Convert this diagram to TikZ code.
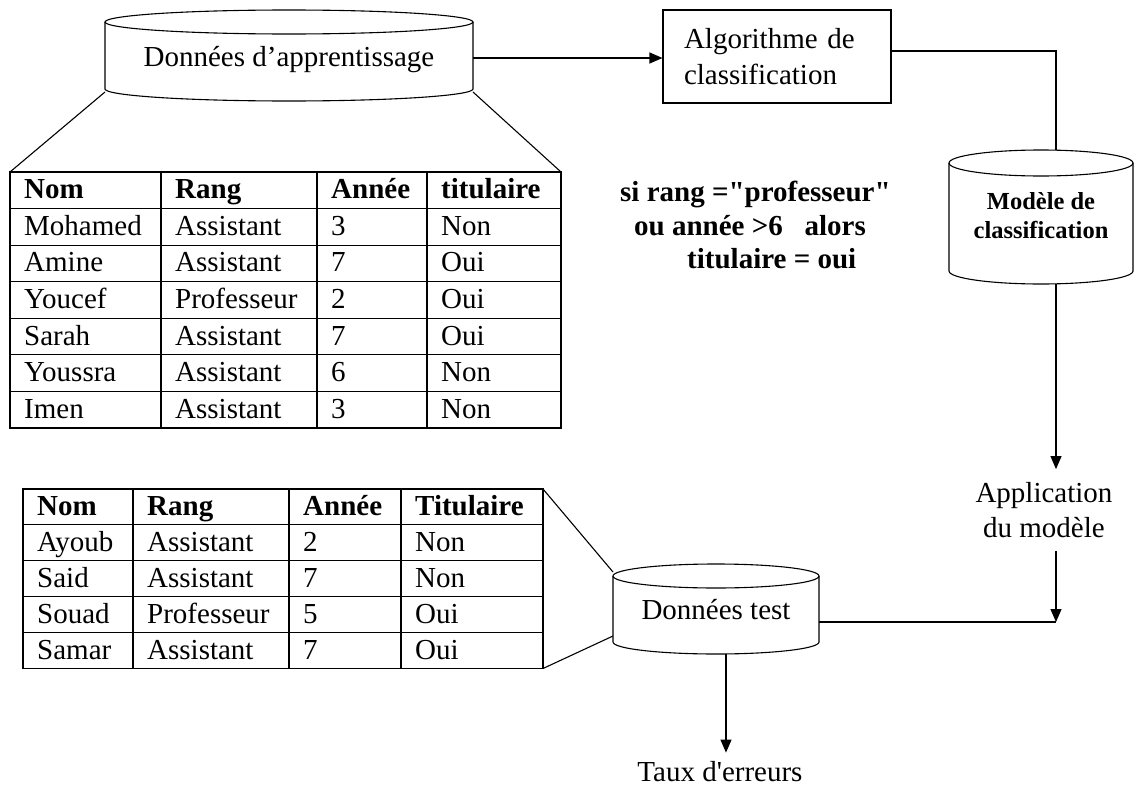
\documentclass[tikz,border=0pt]{standalone}
\usepackage{fontspec}
\setmainfont{Liberation Serif}
\usetikzlibrary{arrows.meta}

\tikzset{
  trait/.style={line width=1.1pt},
  fleche/.style={trait,-{Triangle[length=13pt,width=11pt]}},
  cellule/.style={anchor=base west,inner sep=0pt,font=\fontsize{29}{35}\selectfont},
  entete/.style={cellule,font=\fontsize{29}{35}\selectfont\bfseries},
  texte/.style={inner sep=0pt,align=center,font=\fontsize{29}{35}\selectfont}
}

\begin{document}
\begin{tikzpicture}[x=1pt,y=-1pt]
\useasboundingbox (0,0) rectangle (1136,787);

% Base d'apprentissage
\draw[trait] (289,22) ellipse [x radius=184pt,y radius=12pt];
\draw[trait] (105,22) -- (105,89) arc[start angle=180,end angle=360,x radius=184pt,y radius=12pt] -- (473,22);
\node[texte] (appr) at (289,60) {Données d’apprentissage};
\coordinate (appr-e) at (473,58);
\coordinate (appr-g) at (105,92);
\coordinate (appr-d) at (473,92);

% Algorithme
\node[draw,trait,text width=186pt,minimum width=228pt,minimum height=93pt,inner xsep=0pt,align=left,font=\fontsize{29}{36}\selectfont] (algo) at (777,56.5) {Algorithme de\\classification};
\draw[fleche] (appr-e) -- (algo.west |- appr-e);

% Modele
\draw[trait] (1041,163) ellipse [x radius=92pt,y radius=13pt];
\draw[trait] (949,163) -- (949,271) arc[start angle=180,end angle=360,x radius=92pt,y radius=13pt] -- (1133,163);
\node[texte,font=\fontsize{24.5}{29}\selectfont\bfseries] (modele) at (1041,216) {Modèle de\\classification};
\coordinate (mod-h) at (1056,150);
\coordinate (mod-b) at (1056,284);
\draw[trait] ([yshift=5.5pt]algo.east) -| (mod-h);

% regle
\node[anchor=north west,inner sep=0pt,align=left,font=\fontsize{29}{33.5}\selectfont\bfseries] (regle) at (620,181) {si rang =\textquotedbl professeur\textquotedbl\\\hspace*{14pt}ou année >6\ \ \ alors\\\hspace*{67pt}titulaire = oui};

% Application
\node[texte,inner ysep=13pt] (appli) at (1044,510) {Application\\du modèle};
\draw[fleche] (mod-b) -- (mod-b |- appli.north);
\coordinate (coin) at (1056,622);
\draw[fleche] (mod-b |- appli.south) -- (coin);

% Donnees test
\draw[trait] (716,576) ellipse [x radius=103pt,y radius=12pt];
\draw[trait] (613,576) -- (613,642) arc[start angle=180,end angle=360,x radius=103pt,y radius=12pt] -- (819,576);
\node[texte] (test) at (716,610) {Données test};
\coordinate (test-e) at (819,622);
\coordinate (test-b) at (726,654);
\coordinate (test-g) at (613,572);
\coordinate (test-gb) at (613,636);
\draw[trait] (test-e) -- (coin);
\node[texte,inner ysep=9pt] (taux) at (720,772) {Taux d\textquotesingle erreurs};
\draw[fleche] (test-b) -- (test-b |- taux.north);

% Table d'apprentissage
\coordinate (ta-no) at (10,172);
\coordinate (ta-ne) at (561,172);
\draw[trait] (ta-no) rectangle (561,428);
\foreach \x in {161,317,427}
  \draw[trait] (\x,172) -- (\x,428);
\foreach \k in {1,...,6}
  \draw[trait] (10,{172+36.57*\k}) -- (561,{172+36.57*\k});
\foreach \t/\x [count=\j] in {Nom/24,Rang/175,Année/331,titulaire/441}
  \node[entete] (ta-0-\j) at (\x,198.8) {\t};
\foreach \nom/\rang/\an/\tit [count=\i] in {Mohamed/Assistant/3/Non,Amine/Assistant/7/Oui,Youcef/Professeur/2/Oui,Sarah/Assistant/7/Oui,Youssra/Assistant/6/Non,Imen/Assistant/3/Non}
{
  \node[cellule] (ta-\i-1) at (24,{198.8+36.57*\i}) {\nom};
  \node[cellule] (ta-\i-2) at (175,{198.8+36.57*\i}) {\rang};
  \node[cellule] (ta-\i-3) at (331,{198.8+36.57*\i}) {\an};
  \node[cellule] (ta-\i-4) at (441,{198.8+36.57*\i}) {\tit};
}
\draw[trait] (appr-g) -- (ta-no);
\draw[trait] (appr-d) -- (ta-ne);

% Table de test
\coordinate (tt-ne) at (543,489);
\coordinate (tt-se) at (543,668.5);
\draw[trait] (23,489) rectangle (tt-se);
\foreach \x in {133,289,401}
  \draw[trait] (\x,489) -- (\x,668.5);
\foreach \k in {1,...,4}
  \draw[trait] (23,{489+35.9*\k}) -- (543,{489+35.9*\k});
\foreach \t/\x [count=\j] in {Nom/37,Rang/147,Année/303,Titulaire/415}
  \node[entete] (tt-0-\j) at (\x,515.5) {\t};
\foreach \nom/\rang/\an/\tit [count=\i] in {Ayoub/Assistant/2/Non,Said/Assistant/7/Non,Souad/Professeur/5/Oui,Samar/Assistant/7/Oui}
{
  \node[cellule] (tt-\i-1) at (37,{515.5+35.9*\i}) {\nom};
  \node[cellule] (tt-\i-2) at (147,{515.5+35.9*\i}) {\rang};
  \node[cellule] (tt-\i-3) at (303,{515.5+35.9*\i}) {\an};
  \node[cellule] (tt-\i-4) at (415,{515.5+35.9*\i}) {\tit};
}
\draw[trait] (tt-ne) -- (test-g);
\draw[trait] (tt-se) -- (test-gb);

\end{tikzpicture}
\end{document}
